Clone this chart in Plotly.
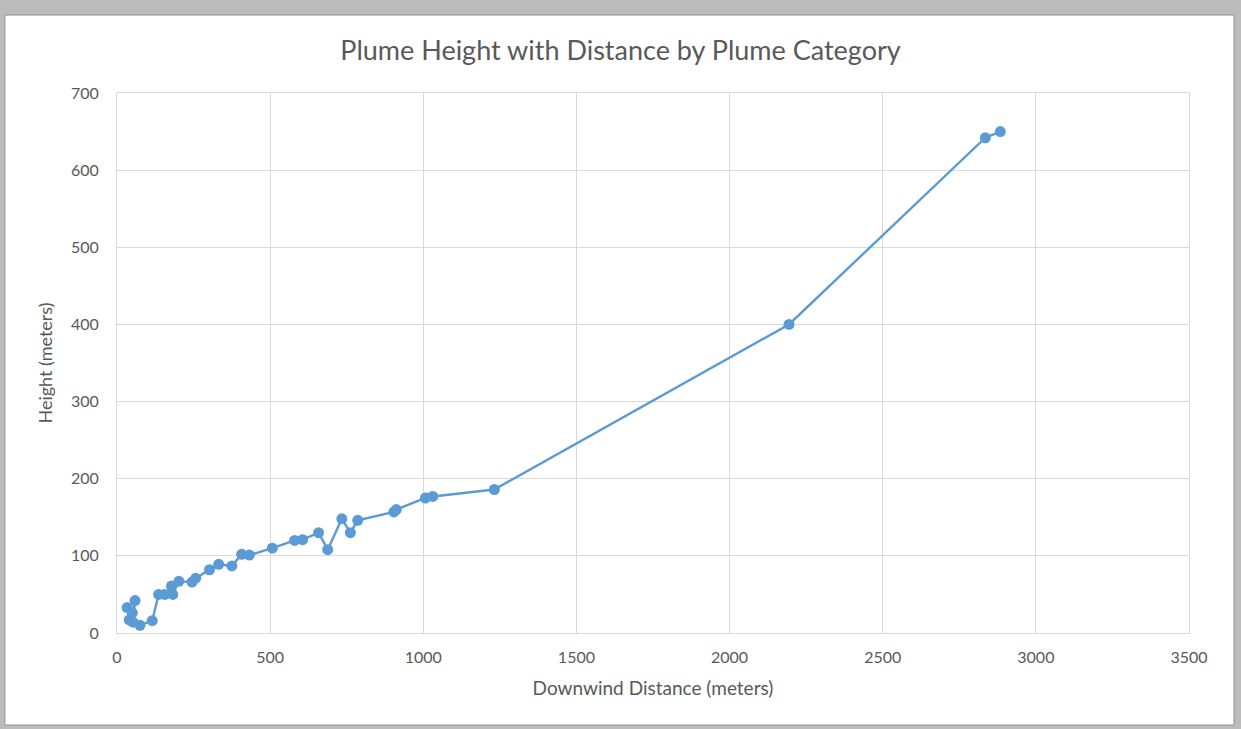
"""
plot.py
Plume height vs downwind distance, drawn as an Excel-style scatter with lines.
"""

import plotly.graph_objects as go


LINE_BLUE = "#5B9BD5"
TEXT_GRAY = "#595959"
GRID_GRAY = "#D9D9D9"
FONT = "Lato, Open Sans, sans-serif"

# downwind distance (m) and plume height (m), in the order the line joins them
distance_m = [
    33, 40, 50, 59, 52, 75, 115, 136, 156, 178, 182, 202, 245, 257,
    302, 332, 375, 407, 432, 507, 580, 606, 658, 688, 734, 762, 786,
    904, 912, 1007, 1031, 1232, 2194, 2835, 2884,
]
height_m = [
    33, 17, 26, 42, 14, 10, 16, 50, 50, 61, 50, 67, 66, 71,
    82, 89, 87, 102, 101, 110, 120, 121, 130, 108, 148, 130, 146,
    157, 160, 175, 177, 186, 400, 642, 650,
]

x_ticks = [0, 500, 1000, 1500, 2000, 2500, 3000, 3500]
y_ticks = [0, 100, 200, 300, 400, 500, 600, 700]

fig = go.Figure()
fig.add_trace(go.Scatter(
    x=distance_m, y=height_m,
    mode="lines+markers",
    line=dict(color=LINE_BLUE, width=2.4),
    marker=dict(color=LINE_BLUE, size=11),
    showlegend=False,
))

# white chart panel inside a grey frame
fig.add_shape(
    type="rect", xref="paper", yref="paper",
    x0=-0.1046, x1=1.0420, y0=-0.1704, y1=1.1444,
    fillcolor="white", line=dict(color="#8f8f8f", width=1),
    layer="below",
)

fig.update_layout(
    width=1241, height=729,
    title=dict(
        text="Plume Height with Distance by Plume Category",
        x=0.5, xanchor="center", y=0.931, yanchor="middle",
        font=dict(family=FONT, size=27, color=TEXT_GRAY),
    ),
    paper_bgcolor="#bcbcbc",
    plot_bgcolor="white",
    font=dict(family=FONT, color=TEXT_GRAY, size=16),
    margin=dict(l=117, r=52, t=93, b=96),
    xaxis=dict(
        range=[0, 3500], tickvals=x_ticks,
        showgrid=True, gridcolor=GRID_GRAY, gridwidth=1,
        zeroline=False, showline=True, linecolor=GRID_GRAY,
        ticks="", ticklabelstandoff=10,
        tickfont=dict(size=16, color=TEXT_GRAY),
        title=dict(text="Downwind Distance (meters)", standoff=16,
                   font=dict(size=19, color=TEXT_GRAY)),
        mirror=True,
    ),
    yaxis=dict(
        range=[0, 700], tickvals=y_ticks,
        showgrid=True, gridcolor=GRID_GRAY, gridwidth=1,
        zeroline=False, showline=True, linecolor=GRID_GRAY,
        ticks="", ticklabelstandoff=14,
        tickfont=dict(size=16, color=TEXT_GRAY),
        title=dict(text="Height (meters)", standoff=13,
                   font=dict(size=18, color=TEXT_GRAY)),
        mirror=True,
    ),
)

fig.write_html(
    "out.html",
    config={"displayModeBar": False},
    post_script="document.body.style.margin='0';",
)
